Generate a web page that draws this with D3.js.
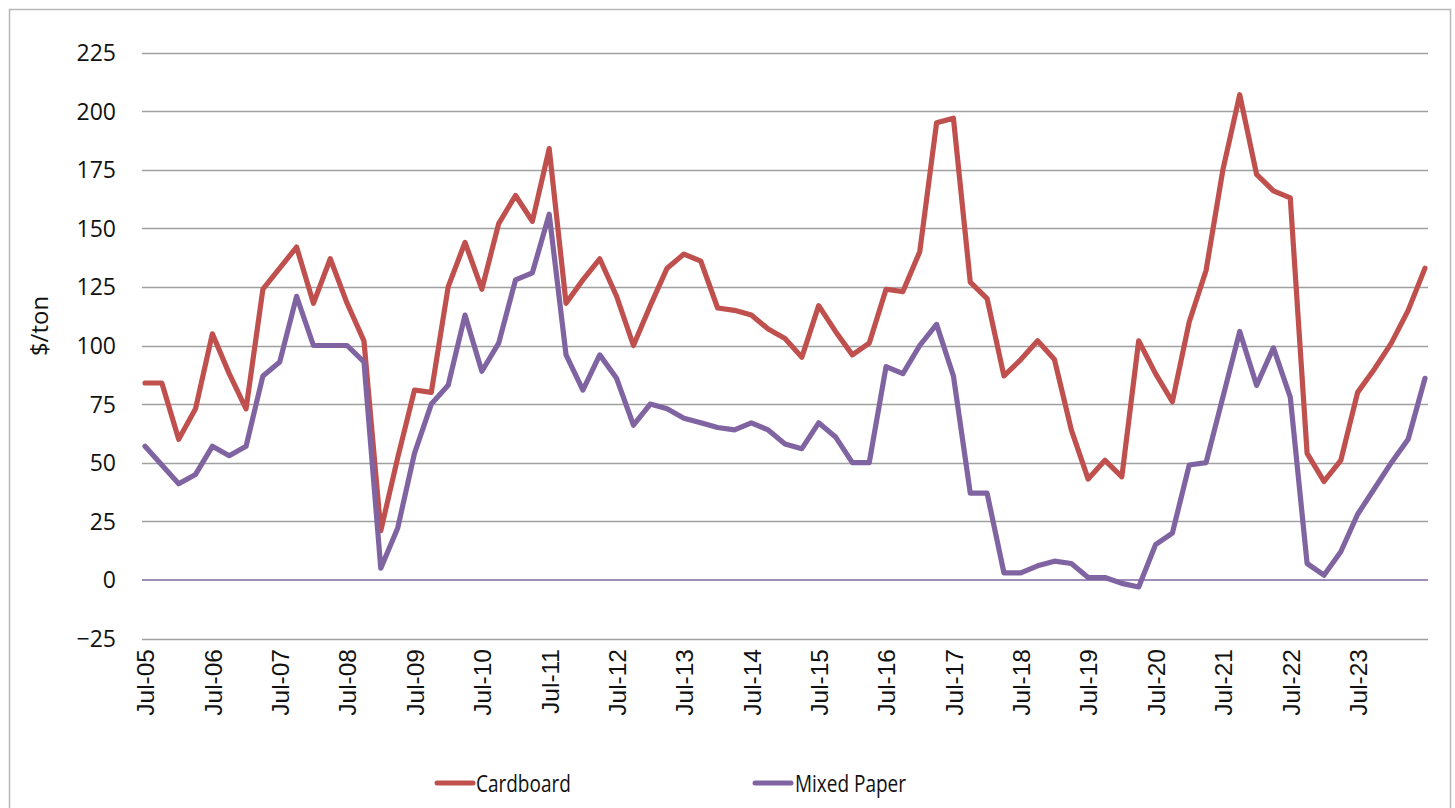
<!DOCTYPE html>
<html>
<head>
<meta charset="utf-8">
<script src="https://cdn.jsdelivr.net/npm/d3@7"></script>
<style>
  html, body { margin: 0; padding: 0; background: #fff; }
  svg { display: block; }
</style>
</head>
<body>
<svg id="chart" width="1455" height="808"></svg>
<script>
// ---- Data ----
const categories = [
  "Jul-05","Oct-05","Jan-06","Apr-06","Jul-06","Oct-06","Jan-07","Apr-07",
  "Jul-07","Oct-07","Jan-08","Apr-08","Jul-08","Oct-08","Jan-09","Apr-09",
  "Jul-09","Oct-09","Jan-10","Apr-10","Jul-10","Oct-10","Jan-11","Apr-11",
  "Jul-11","Oct-11","Jan-12","Apr-12","Jul-12","Oct-12","Jan-13","Apr-13",
  "Jul-13","Oct-13","Jan-14","Apr-14","Jul-14","Oct-14","Jan-15","Apr-15",
  "Jul-15","Oct-15","Jan-16","Apr-16","Jul-16","Oct-16","Jan-17","Apr-17",
  "Jul-17","Oct-17","Jan-18","Apr-18","Jul-18","Oct-18","Jan-19","Apr-19",
  "Jul-19","Oct-19","Jan-20","Apr-20","Jul-20","Oct-20","Jan-21","Apr-21",
  "Jul-21","Oct-21","Jan-22","Apr-22","Jul-22","Oct-22","Jan-23","Apr-23",
  "Jul-23","Oct-23","Jan-24","Apr-24","Jul-24"
];
const cardboard = [
  84, 84, 60, 73, 105, 88, 73, 124,
  133, 142, 118, 137, 118, 102, 21, 52,
  81, 80, 125, 144, 124, 152, 164, 153,
  184, 118, 128, 137, 121, 100, 117, 133,
  139, 136, 116, 115, 113, 107, 103, 95,
  117, 106, 96, 101, 124, 123, 140, 195,
  197, 127, 120, 87, 94, 102, 94, 64,
  43, 51, 44, 102, 88, 76, 110, 132,
  175, 207, 173, 166, 163, 54, 42, 51,
  80, 90, 101, 115, 133
];
const mixedPaper = [
  57, 49, 41, 45, 57, 53, 57, 87,
  93, 121, 100, 100, 100, 93, 5, 22,
  54, 75, 83, 113, 89, 101, 128, 131,
  156, 96, 81, 96, 86, 66, 75, 73,
  69, 67, 65, 64, 67, 64, 58, 56,
  67, 61, 50, 50, 91, 88, 100, 109,
  87, 37, 37, 3, 3, 6, 8, 7,
  1, 1, -1.5, -3, 15, 20, 49, 50,
  78, 106, 83, 99, 78, 7, 2, 12,
  28, 39, 50, 60, 86
];
const xTickLabels = [
  "Jul-05","Jul-06","Jul-07","Jul-08","Jul-09","Jul-10","Jul-11","Jul-12",
  "Jul-13","Jul-14","Jul-15","Jul-16","Jul-17","Jul-18","Jul-19","Jul-20",
  "Jul-21","Jul-22","Jul-23"
];
const yTicks = [-25, 0, 25, 50, 75, 100, 125, 150, 175, 200, 225];
const seriesNames = ["Cardboard", "Mixed Paper"];
const seriesColors = ["#C0504D", "#8064A2"];

// ---- Layout ----
const svg = d3.select("#chart");
const gridLeft = 142, gridRight = 1428;

svg.append("rect")
  .attr("x", 9.5).attr("y", 9.5)
  .attr("width", 1441).attr("height", 820)
  .attr("fill", "none").attr("stroke", "#b8b8b8").attr("stroke-width", 1.5);

const x = d3.scalePoint().domain(categories).range([145, 1425]);
const y = d3.scaleLinear().domain([-25, 225]).range([638.5, 52.5]);

// gridlines
svg.append("g").selectAll("line")
  .data(yTicks.filter(d => d !== 0))
  .join("line")
  .attr("x1", gridLeft).attr("x2", gridRight)
  .attr("y1", d => Math.round(y(d)) + 0.5).attr("y2", d => Math.round(y(d)) + 0.5)
  .attr("stroke", "#a0a0a0").attr("stroke-width", 1.5);

// y axis labels
const yAxis = d3.axisLeft(y).tickValues(yTicks).tickSize(0).tickPadding(0);
const yg = svg.append("g").attr("transform", `translate(116,0)`).call(yAxis);
yg.select(".domain").remove();
yg.selectAll("text")
  .attr("font-family", "'Open Sans', 'Liberation Sans', sans-serif")
  .attr("font-size", 23).attr("fill", "#111").attr("dy", "0.35em");

// y axis title
svg.append("text")
  .attr("transform", "translate(48,326) rotate(-90)")
  .attr("text-anchor", "middle")
  .attr("font-family", "'Open Sans', 'Liberation Sans', sans-serif")
  .attr("font-size", 24).attr("fill", "#111")
  .text("$/ton");

// zero (category axis) line
svg.append("line")
  .attr("x1", gridLeft).attr("x2", gridRight)
  .attr("y1", y(0)).attr("y2", y(0))
  .attr("stroke", "#8064A2").attr("stroke-width", 1.5);

// x axis labels
const xAxis = d3.axisBottom(x).tickValues(xTickLabels).tickSize(0).tickPadding(0);
const xg = svg.append("g").attr("transform", `translate(0,649)`).call(xAxis);
xg.select(".domain").remove();
xg.selectAll("text")
  .attr("font-family", "'Liberation Sans', Arial, sans-serif")
  .attr("font-size", 24.5).attr("fill", "#111")
  .attr("text-anchor", "end")
  .attr("transform", "rotate(-90)")
  .attr("x", 0).attr("y", 0).attr("dy", "0.36em");

// lines
const line = d3.line()
  .x((d, i) => x(categories[i]))
  .y(d => y(d));
[cardboard, mixedPaper].forEach((s, k) => {
  svg.append("path")
    .datum(s)
    .attr("d", line)
    .attr("fill", "none")
    .attr("stroke", seriesColors[k])
    .attr("stroke-width", 5.2)
    .attr("stroke-linejoin", "round")
    .attr("stroke-linecap", "round");
});

// legend
const legendPos = [{lx: 437, tx: 476}, {lx: 755, tx: 795}];
seriesNames.forEach((name, k) => {
  const g = svg.append("g");
  g.append("line")
    .attr("x1", legendPos[k].lx).attr("x2", legendPos[k].lx + 36)
    .attr("y1", 783).attr("y2", 783)
    .attr("stroke", seriesColors[k]).attr("stroke-width", 5)
    .attr("stroke-linecap", "round");
  g.append("text")
    .attr("x", legendPos[k].tx).attr("y", 783).attr("dy", "0.36em")
    .attr("font-family", "'Open Sans', 'Liberation Sans', sans-serif")
    .attr("font-size", 20).attr("fill", "#111")
    .attr("transform", `translate(${legendPos[k].tx},783) scale(0.95,1.2) translate(${-legendPos[k].tx},-783)`)
    .text(name);
});
</script>
</body>
</html>
